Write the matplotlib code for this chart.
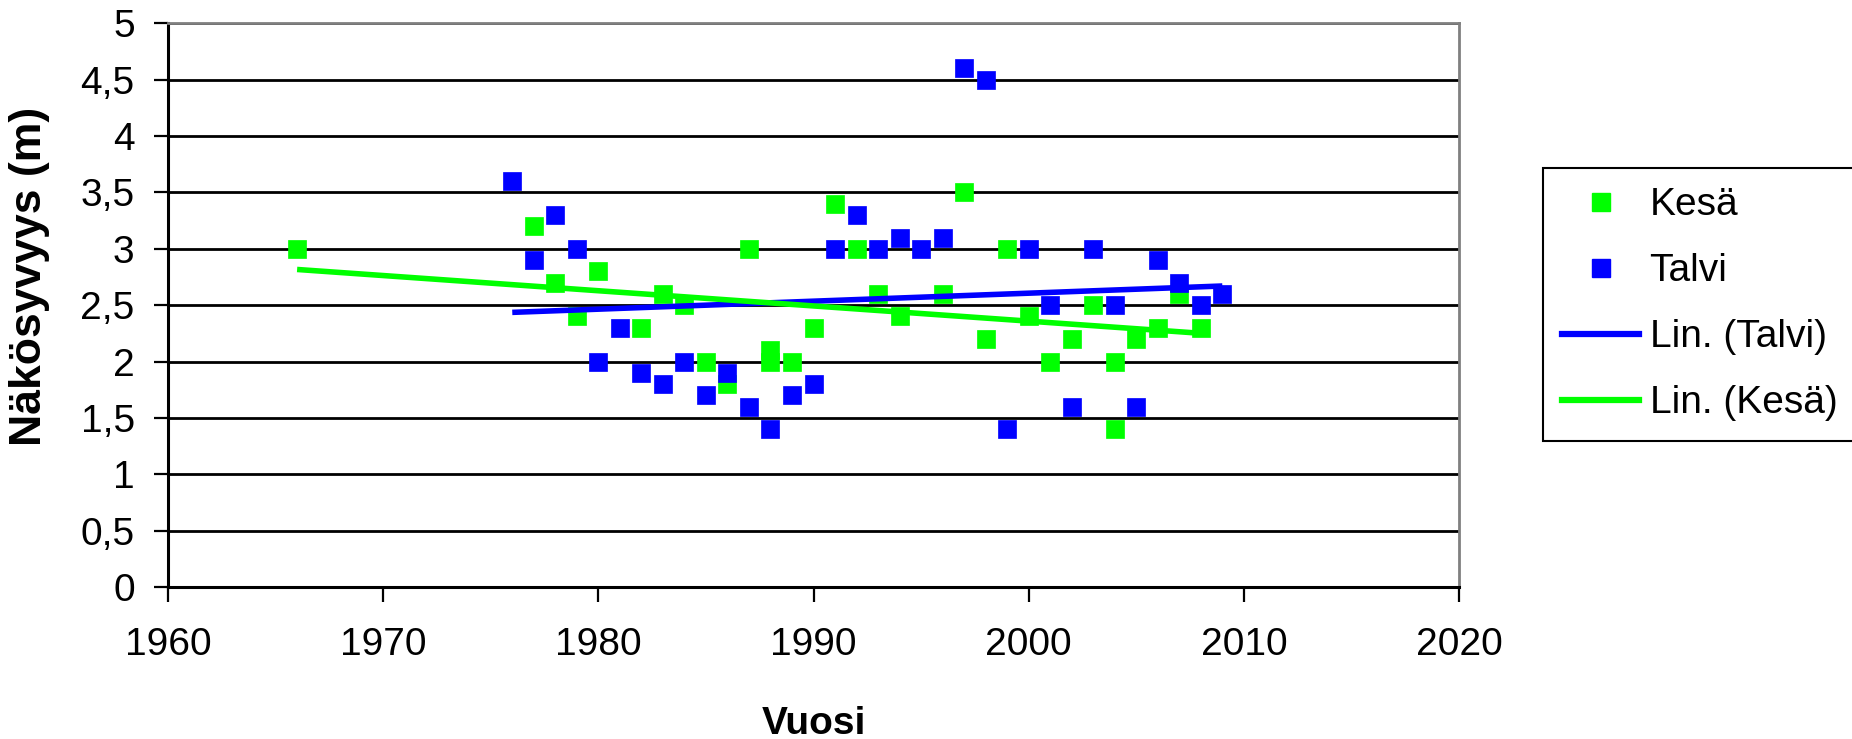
import numpy as np
import matplotlib
matplotlib.use("Agg")
import matplotlib.pyplot as plt
from matplotlib.lines import Line2D

# Summer (Kesä) observations
kesa_years = [1966, 1977, 1978, 1979, 1980, 1982, 1983, 1984, 1985, 1986,
              1987, 1988, 1988, 1989, 1990, 1991, 1992, 1993, 1994, 1996,
              1997, 1998, 1999, 2000, 2001, 2002, 2003, 2004, 2004, 2005,
              2006, 2007, 2008]
kesa_values = [3.0, 3.2, 2.7, 2.4, 2.8, 2.3, 2.6, 2.5, 2.0, 1.8,
               3.0, 2.1, 2.0, 2.0, 2.3, 3.4, 3.0, 2.6, 2.4, 2.6,
               3.5, 2.2, 3.0, 2.4, 2.0, 2.2, 2.5, 2.0, 1.4, 2.2,
               2.3, 2.6, 2.3]

# Winter (Talvi) observations
talvi_years = [1976, 1977, 1978, 1979, 1980, 1981, 1982, 1983, 1984, 1985,
               1986, 1987, 1988, 1989, 1990, 1991, 1992, 1993, 1994, 1995,
               1996, 1997, 1998, 1999, 2000, 2001, 2002, 2003, 2004, 2005,
               2006, 2007, 2008, 2009]
talvi_values = [3.6, 2.9, 3.3, 3.0, 2.0, 2.3, 1.9, 1.8, 2.0, 1.7,
                1.9, 1.6, 1.4, 1.7, 1.8, 3.0, 3.3, 3.0, 3.1, 3.0,
                3.1, 4.6, 4.5, 1.4, 3.0, 2.5, 1.6, 3.0, 2.5, 1.6,
                2.9, 2.7, 2.5, 2.6]

x_ticks = [1960, 1970, 1980, 1990, 2000, 2010, 2020]
y_ticks = [0, 0.5, 1, 1.5, 2, 2.5, 3, 3.5, 4, 4.5, 5]
y_tick_labels = ['0', '0,5', '1', '1,5', '2', '2,5', '3', '3,5', '4', '4,5', '5']

GREEN = '#00ff00'
BLUE = '#0000ff'

plt.rcParams['font.family'] = ['Liberation Sans', 'DejaVu Sans']


def trend(years, values):
    # linear trendline over the range of the data
    k, b = np.polyfit(years, values, 1)
    xs = np.array([min(years), max(years)], dtype=float)
    return xs, k * xs + b


def main():
    fig = plt.figure(figsize=(18.52, 7.39), dpi=100)
    ax = fig.add_axes([168 / 1852, 1 - 587 / 739, (1459 - 168) / 1852, (587 - 23.3) / 739])

    ax.plot(kesa_years, kesa_values, linestyle='none', marker='s', markersize=13.5,
            color=GREEN, markeredgewidth=0.5, zorder=3)
    ax.plot(talvi_years, talvi_values, linestyle='none', marker='s', markersize=13.5,
            color=BLUE, markeredgewidth=0.5, zorder=4)

    tx, ty = trend(talvi_years, talvi_values)
    ax.plot(tx, ty, color=BLUE, linewidth=4, zorder=5, solid_capstyle='butt')
    kx, ky = trend(kesa_years, kesa_values)
    ax.plot(kx, ky, color=GREEN, linewidth=4, zorder=6, solid_capstyle='butt')

    ax.set_xlim(1960, 2020)
    ax.set_ylim(0, 5)
    ax.set_xticks(x_ticks)
    ax.set_yticks(y_ticks)
    ax.set_yticklabels(y_tick_labels)

    ax.yaxis.grid(True, color='black', linewidth=2)
    ax.set_axisbelow(True)

    for side in ('top', 'right'):
        ax.spines[side].set_color('#808080')
        ax.spines[side].set_linewidth(2)
    ax.spines['left'].set_linewidth(2.2)
    ax.spines['bottom'].set_linewidth(2.2)

    ax.tick_params(axis='x', direction='out', length=10.5, width=1.6, labelsize=28, pad=18)
    ax.tick_params(axis='y', direction='out', length=10, width=1.6, labelsize=28, pad=14)

    fig.text(30 / 1852, 1 - 276 / 739, 'Näkösyvyys (m)', rotation=90, ha='center', va='center',
             fontsize=32, fontweight='bold')
    fig.text(813.5 / 1852, 1 - 734 / 739, 'Vuosi', ha='center', va='baseline',
             fontsize=28, fontweight='bold')

    handles = [
        Line2D([], [], linestyle='none', marker='s', markersize=13.5, color=GREEN),
        Line2D([], [], linestyle='none', marker='s', markersize=13.5, color=BLUE),
        Line2D([], [], color=BLUE, linewidth=4.5),
        Line2D([], [], color=GREEN, linewidth=4.5),
    ]
    labels = ['Kesä', 'Talvi', 'Lin. (Talvi)', 'Lin. (Kesä)']
    leg = fig.legend(handles, labels, loc='upper left',
                     bbox_to_anchor=(1543 / 1852, 1 - 168 / 739), borderaxespad=0,
                     fontsize=28, handlelength=1.98, handletextpad=0.26,
                     borderpad=0.5, labelspacing=0.77, fancybox=False,
                     framealpha=1, edgecolor='black')
    leg.get_frame().set_linewidth(1.5)

    fig.savefig('out.png', dpi=100)


if __name__ == "__main__":
    main()
